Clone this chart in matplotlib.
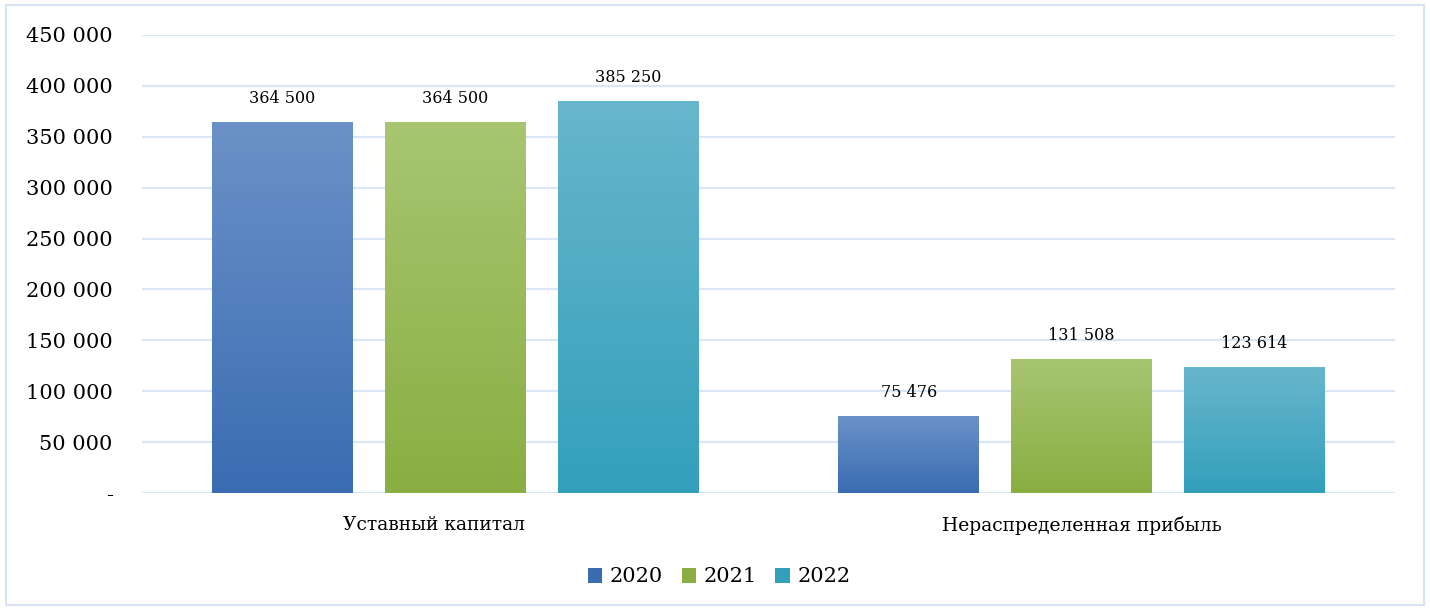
import numpy as np
import matplotlib
matplotlib.use("Agg")
import matplotlib.pyplot as plt
from matplotlib.patches import Rectangle
from matplotlib.colors import LinearSegmentedColormap
from matplotlib.ticker import FuncFormatter

categories = ["Уставный капитал", "Нераспределенная прибыль"]
years = ["2020", "2021", "2022"]
values_2020 = [364500, 75476]
values_2021 = [364500, 131508]
values_2022 = [385250, 123614]
series = [values_2020, values_2021, values_2022]

# top / bottom colours of each series gradient
grad = [("#6B92C8", "#3A6CB2"), ("#A8C571", "#8AAE42"), ("#68B6CC", "#33A0BB")]

plt.rcParams["font.family"] = ["DejaVu Serif"]

fig = plt.figure(figsize=(14.3, 6.09), dpi=100)
fig.patches.append(Rectangle((6 / 1430, 4 / 609), 1418 / 1430, 600 / 609,
                             transform=fig.transFigure, fill=False,
                             edgecolor="#D6E3F3", linewidth=1.5))

ax = fig.add_axes([142 / 1430, 1 - 493 / 609, 1253 / 1430, 458 / 609])
ax.set_xlim(-0.5, 1.5)
ax.set_ylim(0, 450000)
ax.set_yticks(np.arange(0, 450001, 50000))
ax.yaxis.set_major_formatter(FuncFormatter(
    lambda v, p: "-" if v == 0 else f"{int(v):,}".replace(",", " ")))
ax.grid(axis="y", color="#DAE5F5", linewidth=1.6)
ax.set_axisbelow(True)
for s in ax.spines.values():
    s.set_visible(False)
ax.tick_params(axis="y", length=0, pad=21, labelsize=15)
ax.set_xticks([])

# category captions under each group
cat_shift = [-0.034, 0.0]
for i, name in enumerate(categories):
    ax.text(i + cat_shift[i], -0.07, name, transform=ax.get_xaxis_transform(),
            ha="center", va="center", fontsize=13.5)

width = 0.225
offset = 0.276
x = np.arange(len(categories))
handles = []
for i, (vals, (top, bot)) in enumerate(zip(series, grad)):
    cmap = LinearSegmentedColormap.from_list(f"g{i}", [bot, top])
    pos = x + (i - 1) * offset
    bars = ax.bar(pos, vals, width=width, color=bot, label=years[i])
    for b, v in zip(bars, vals):
        x0, x1 = b.get_x(), b.get_x() + b.get_width()
        im = ax.imshow(np.linspace(0, 1, 256).reshape(-1, 1), cmap=cmap,
                       origin="lower", extent=(x0, x1, 0, v), aspect="auto",
                       zorder=b.get_zorder() + 0.1)
        im.set_clip_path(b)
        ax.text(b.get_x() + b.get_width() / 2, v + 15000,
                f"{v:,}".replace(",", " "), ha="center", va="bottom",
                fontsize=11.5)
    handles.append(bars)

ax.set_xlim(-0.5, 1.5)
ax.set_ylim(0, 450000)

leg = fig.legend(handles=handles, labels=years, loc="center",
                 bbox_to_anchor=(719 / 1430, 1 - 577 / 609), ncol=3,
                 frameon=False, fontsize=15, handlelength=0.7,
                 handleheight=0.7, handletextpad=0.35, columnspacing=0.9)

fig.savefig("out.png", dpi=100)
